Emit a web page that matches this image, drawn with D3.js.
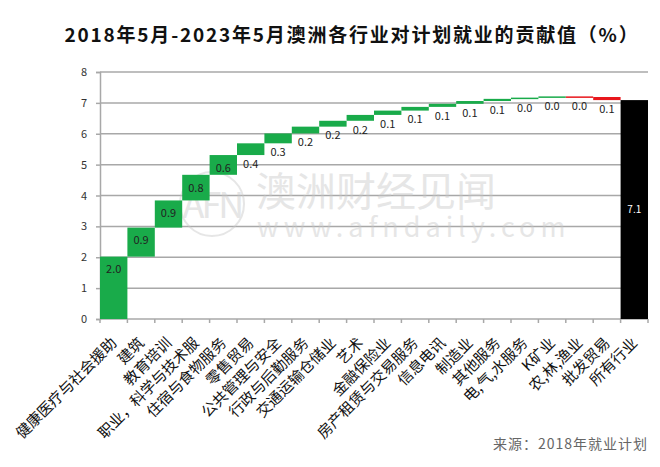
<!DOCTYPE html>
<html><head><meta charset="utf-8">
<script src="https://cdn.jsdelivr.net/npm/d3@7/dist/d3.min.js"></script>
<style>
body{margin:0;background:#fff}
svg{display:block}
text{font-family:"Noto Sans CJK SC","Noto Sans",sans-serif}
</style>
</head><body>
<svg id="chart" width="660" height="467"></svg>
<script>
const title = "2018年5月-2023年5月澳洲各行业对计划就业的贡献值（%）";
const source = "来源：2018年就业计划";
const categories = ["健康医疗与社会援助","建筑","教育培训","职业，科学与技术服","住宿与食物服务","零售贸易","公共管理与安全","行政与后勤服务","交通运输仓储业","艺术","金融保险业","房产租赁与交易服务","信息电讯","制造业","其他服务","电,气,水服务","K矿业","农,林,渔业","批发贸易"];
const values = [2.02,0.94,0.88,0.83,0.64,0.38,0.32,0.22,0.19,0.19,0.14,0.12,0.10,0.09,0.07,0.04,0.04,-0.02,-0.10];
const totalCategory = "所有行业";
const yTicks = [0,1,2,3,4,5,6,7,8];

const svg = d3.select("#chart");
const plot = {left:100, right:648, top:72, bottom:319};

// build waterfall rows
let run = 0;
const rows = categories.map((c,i)=>{
  const start = run; run += values[i];
  return {cat:c, start, end:run, v:values[i], type: values[i] >= 0 ? "up" : "down"};
});
rows.push({cat:totalCategory, start:0, end:run, v:run, type:"total"});

const x = d3.scaleBand().domain(rows.map(d=>d.cat)).range([plot.left, plot.right]).padding(0);
const y = d3.scaleLinear().domain([0,8]).range([plot.bottom, plot.top]);

// title
svg.append("text").attr("x", 352).attr("y", 42).attr("text-anchor","middle")
  .attr("font-size", 19).attr("font-weight", 600).attr("letter-spacing", 1.8)
  .attr("fill","#111").text(title);

// gridlines
svg.append("g").selectAll("line").data(yTicks.filter(t=>t>0)).join("line")
  .attr("x1", plot.left).attr("x2", plot.right)
  .attr("y1", d=>y(d)).attr("y2", d=>y(d))
  .attr("stroke","#a8a8a8").attr("stroke-width",1.5);

// watermark
const wm = svg.append("g").attr("opacity",0.45).attr("fill","none");
wm.append("circle").attr("cx",212).attr("cy",204).attr("r",32).attr("stroke","#c8c8c8").attr("stroke-width",2);
wm.append("text").attr("x",212).attr("y",218).attr("text-anchor","middle").attr("font-size",36)
  .attr("fill","#c8c8c8").attr("font-family","'Noto Sans',sans-serif").attr("letter-spacing",-3).text("AFN");
wm.append("text").attr("x",256).attr("y",206).attr("font-size",40).attr("fill","#c8c8c8").text("澳洲财经见闻");
wm.append("text").attr("x",257).attr("y",237).attr("font-size",27).attr("fill","#c8c8c8")
  .attr("font-family","'Noto Sans',sans-serif").attr("letter-spacing",5).text("www.afndaily.com");

// y axis
const yAxis = svg.append("g").attr("transform",`translate(${plot.left},0)`)
  .call(d3.axisLeft(y).tickValues(yTicks).tickSize(4).tickPadding(9).tickFormat(d3.format("d")));
yAxis.select(".domain").attr("stroke","#a8a8a8").attr("stroke-width",1.5);
yAxis.selectAll(".tick line").attr("stroke","#a8a8a8").attr("stroke-width",1.5);
yAxis.selectAll("text").attr("font-size",11).attr("fill","#333").attr("font-family","'Noto Sans',sans-serif");

// x axis: baseline + ticks at band boundaries
const bounds = rows.map(d=>x(d.cat)).concat([plot.right]);
svg.append("line").attr("x1",plot.left).attr("x2",plot.right).attr("y1",y(0)).attr("y2",y(0))
  .attr("stroke","#a8a8a8").attr("stroke-width",1.5);
svg.append("g").selectAll("line").data(bounds).join("line")
  .attr("x1",d=>d).attr("x2",d=>d).attr("y1",y(0)).attr("y2",y(0)+4)
  .attr("stroke","#a8a8a8").attr("stroke-width",1.5);

// bars
const colors = {up:"#19ab4a", down:"#e8171d", total:"#000000"};
svg.append("g").selectAll("rect").data(rows).join("rect")
  .attr("x", d=>x(d.cat)).attr("width", x.bandwidth())
  .attr("y", d=>y(Math.max(d.start,d.end)))
  .attr("height", d=>Math.max(1.5, Math.abs(y(d.start)-y(d.end))))
  .attr("fill", d=>colors[d.type]);

// value labels
svg.append("g").selectAll("text").data(rows).join("text")
  .attr("x", d=>x(d.cat)+x.bandwidth()/2)
  .attr("y", d=>{
    const top = y(Math.max(d.start,d.end)), bot = y(Math.min(d.start,d.end));
    if (d.type==="total") return (top+bot)/2;
    if (bot-top >= 16) return top + 13;
    return bot + 9;
  })
  .attr("dy","0.35em").attr("text-anchor","middle")
  .attr("font-size", d=>d.type==="total"?10:11)
  .attr("font-family","'Noto Sans',sans-serif")
  .attr("fill", d=>d.type==="total" ? "#fff" : "#222")
  .text(d=>Math.abs(d.v).toFixed(1));

// category labels
svg.append("g").selectAll("text").data(rows).join("text")
  .attr("transform", d=>`translate(${x(d.cat)+x.bandwidth()/2+4},${y(0)+25}) rotate(-45)`)
  .attr("text-anchor","end").attr("font-size",15).attr("fill","#111")
  .text(d=>d.cat);

// source
svg.append("text").attr("x",648).attr("y",449).attr("text-anchor","end")
  .attr("font-size",14).attr("letter-spacing",1).attr("fill","#666").text(source);
</script>
</body></html>
